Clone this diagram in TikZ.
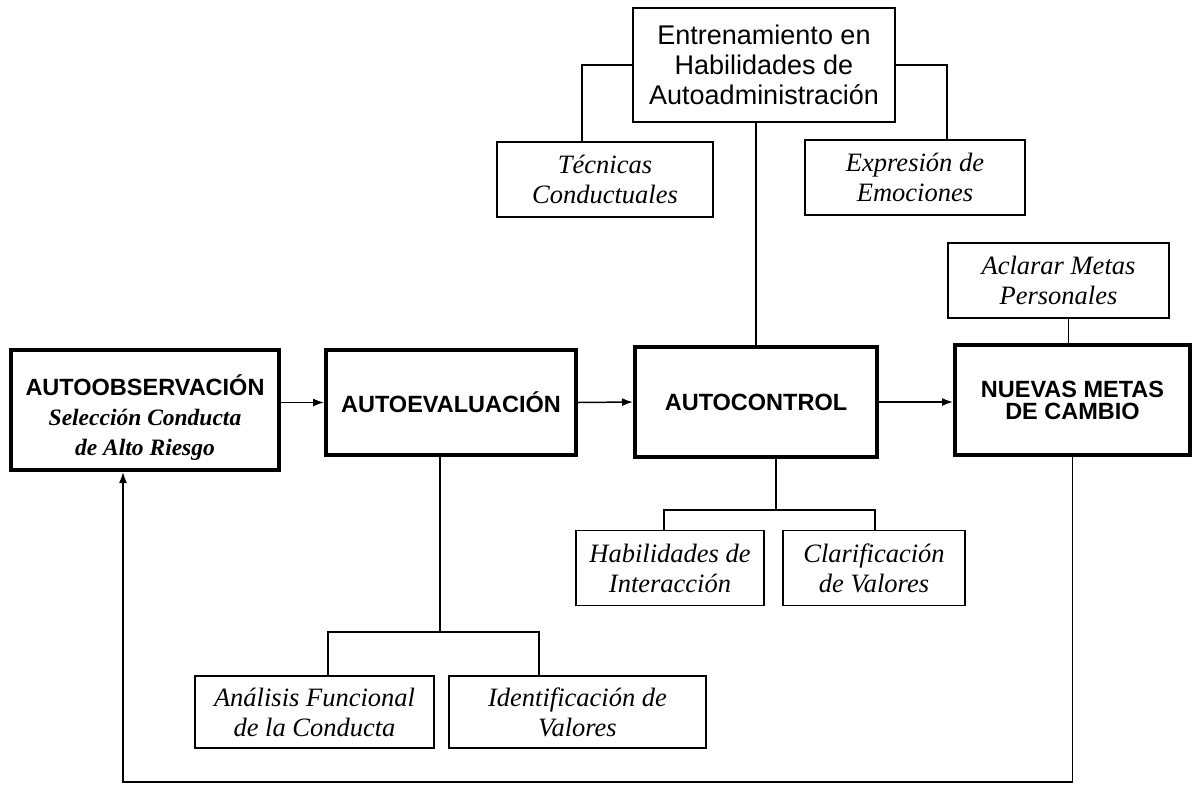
\documentclass[tikz,border=0pt]{standalone}
\usepackage{fontspec}
\setmainfont{Liberation Serif}
\setsansfont{Liberation Sans}
\usetikzlibrary{arrows.meta,calc}

\begin{document}
\begin{tikzpicture}[x=1pt,y=-1pt,
	mainbox/.style={draw, line width=4pt, inner sep=0pt, align=center, font=\sffamily\bfseries\fontsize{23.5}{22}\selectfont},
	subbox/.style={draw, line width=1.3pt, inner sep=0pt, align=center, font=\itshape\fontsize{26.5}{30}\selectfont},
	link/.style={line width=1.3pt},
	flow/.style={line width=1.5pt, ->, >={Latex[length=11pt,width=8pt]}}]

	\useasboundingbox (0,0) rectangle (1192,785);

	\node[draw, line width=1.3pt, inner sep=0pt, align=center, font=\sffamily\fontsize{27}{30}\selectfont, minimum width=262, minimum height=114] (ent) at (764,65) {Entrenamiento en\\Habilidades de\\Autoadministración};
	\node[subbox, minimum width=216, minimum height=75] (tec) at (605,179.5) {Técnicas\\Conductuales};
	\node[subbox, minimum width=220, minimum height=75] (exp) at (915,177.5) {Expresión de\\Emociones};
	\node[subbox, minimum width=221, minimum height=75] (acl) at (1058.5,280.5) {Aclarar Metas\\Personales};

	\node[mainbox, minimum width=268, minimum height=120, font=\sffamily\bfseries\fontsize{23.5}{30}\selectfont] (aut) at (145,410) {\rule{0pt}{35pt}AUTOOBSERVACIÓN\\{\rmfamily\itshape Selección Conducta}\\{\rmfamily\itshape de Alto Riesgo}};
	\node[mainbox, minimum width=250, minimum height=105] (eval) at (451,402.5) {AUTOEVALUACIÓN};
	\node[mainbox, minimum width=242, minimum height=110] (ctrl) at (756,402) {AUTOCONTROL};
	\node[mainbox, minimum width=235, minimum height=110] (nue) at (1072.5,400) {NUEVAS METAS\\DE CAMBIO};

	\node[subbox, minimum width=188, minimum height=75] (hab) at (670,568) {Habilidades de\\Interacción};
	\node[subbox, minimum width=182, minimum height=75] (cla) at (874,568) {Clarificación\\de Valores};
	\node[subbox, minimum width=239, minimum height=72] (ana) at (314.5,712) {Análisis Funcional\\de la Conducta};
	\node[subbox, minimum width=257, minimum height=72] (ide) at (577.5,712) {Identificación de\\Valores};

	\draw[link] (ent.west) -| ([xshift=-23pt]tec.north);
	\draw[link] (ent.east) -| ([xshift=32pt]exp.north);
	\draw[link] (ctrl.north) -- (ctrl.north |- ent.south);
	\draw[link] ([xshift=-4pt]nue.north) -- ([xshift=-4pt]nue.north |- acl.south);

	\draw[flow] (aut.east |- eval.west) -- (eval.west);
	\draw[flow] (eval.east) -- (ctrl.west);
	\draw[flow] (ctrl.east) -- (nue.west |- ctrl.east);

	\coordinate (evbr) at (440,632);
	\draw[link] ([xshift=-11pt]eval.south) -- (evbr);
	\draw[link] ([xshift=13.5pt]ana.north) |- (evbr) -| ([xshift=-38.5pt]ide.north);

	\coordinate (ctbr) at (776,510);
	\draw[link] ([xshift=20pt]ctrl.south) -- (ctbr);
	\draw[link] ([xshift=-6pt]hab.north) |- (ctbr) -| ([xshift=1pt]cla.north);

	\coordinate (back) at (123,782);
	\draw[flow] (nue.south) |- (back) -- ([xshift=-22pt]aut.south);

\end{tikzpicture}
\end{document}
